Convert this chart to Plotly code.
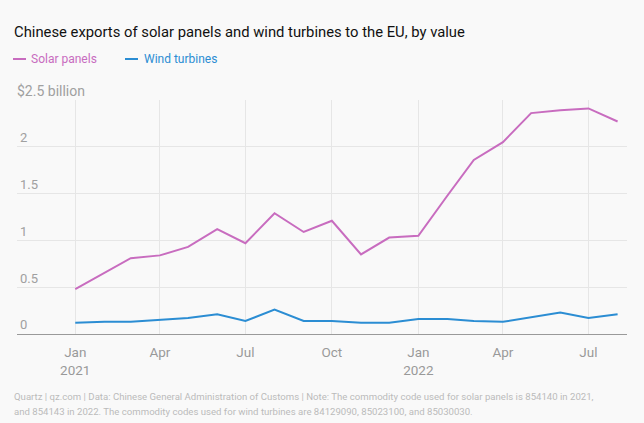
import plotly.graph_objects as go

months = ["2021-01-01","2021-02-01","2021-03-01","2021-04-01","2021-05-01","2021-06-01",
          "2021-07-01","2021-08-01","2021-09-01","2021-10-01","2021-11-01","2021-12-01",
          "2022-01-01","2022-02-01","2022-03-01","2022-04-01","2022-05-01","2022-06-01",
          "2022-07-01","2022-08-01"]
solar_panels = [0.48, 0.65, 0.81, 0.84, 0.93, 1.12, 0.97, 1.29, 1.09, 1.21, 0.85, 1.03,
                1.05, 1.48, 1.86, 2.05, 2.36, 2.39, 2.41, 2.27]
wind_turbines = [0.12, 0.13, 0.13, 0.15, 0.17, 0.21, 0.14, 0.26, 0.14, 0.14, 0.12, 0.12,
                 0.16, 0.16, 0.14, 0.13, 0.18, 0.23, 0.17, 0.21]

x_tickvals = ["2021-01-01","2021-04-01","2021-07-01","2021-10-01","2022-01-01","2022-04-01","2022-07-01"]
x_ticktext = ["Jan<br>2021","Apr","Jul","Oct","Jan<br>2022","Apr","Jul"]
y_tickvals = [0, 0.5, 1, 1.5, 2, 2.5]
y_ticktext = ["0", "0.5", "1", "1.5", "2", ""]
y_unit_label = "$2.5 billion"
title_text = "Chinese exports of solar panels and wind turbines to the EU, by value"
legend_names = ["Solar panels", "Wind turbines"]
note_lines = ["Quartz | qz.com | Data: Chinese General Administration of Customs | Note: The commodity code used for solar panels is 854140 in 2021,",
              "and 854143 in 2022. The commodity codes used for wind turbines are 84129090, 85023100, and 85030030."]

SOLAR = "#c86cbf"
WIND = "#2b8dd3"
FONT = "Roboto, sans-serif"

fig = go.Figure()
fig.add_trace(go.Scatter(x=months, y=solar_panels, mode="lines", name=legend_names[0],
                         line=dict(color=SOLAR, width=2)))
fig.add_trace(go.Scatter(x=months, y=wind_turbines, mode="lines", name=legend_names[1],
                         line=dict(color=WIND, width=2)))

annotations = [
    dict(text=y_unit_label, xref="paper", yref="y", x=0, y=2.5, xshift=-2, yshift=9,
         xanchor="left", yanchor="middle", showarrow=False,
         font=dict(size=14, color="#a0a0a0", family=FONT)),
    dict(text=title_text, xref="paper", yref="paper", x=0, y=1, xshift=-5, yshift=68,
         xanchor="left", yanchor="middle", showarrow=False,
         font=dict(size=14.8, color="#111111", family=FONT)),
    dict(text=legend_names[0], xref="paper", yref="paper", x=0, y=1, xshift=12, yshift=41,
         xanchor="left", yanchor="middle", showarrow=False,
         font=dict(size=12, color=SOLAR, family=FONT)),
    dict(text=legend_names[1], xref="paper", yref="paper", x=0, y=1, xshift=125, yshift=41,
         xanchor="left", yanchor="middle", showarrow=False,
         font=dict(size=12, color=WIND, family=FONT)),
]
for i, line in enumerate(note_lines):
    annotations.append(dict(text=line, xref="paper", yref="paper", x=0, y=0, xshift=-5,
                            yshift=-62 - 15 * i, xanchor="left", yanchor="middle",
                            showarrow=False, font=dict(size=9.6, color="#bbbbbb", family=FONT)))

shapes = [
    dict(type="line", xref="paper", yref="paper", xsizemode="pixel", ysizemode="pixel",
         xanchor=0, yanchor=1, x0=-4, x1=9, y0=41, y1=41, line=dict(color=SOLAR, width=2)),
    dict(type="line", xref="paper", yref="paper", xsizemode="pixel", ysizemode="pixel",
         xanchor=0, yanchor=1, x0=108, x1=121, y0=41, y1=41, line=dict(color=WIND, width=2)),
]

fig.update_layout(
    width=644, height=423,
    margin=dict(l=17, r=17, t=100, b=89),
    paper_bgcolor="#f9f9f9", plot_bgcolor="#f9f9f9",
    showlegend=False,
    font=dict(family=FONT, color="#999999", size=13),
    xaxis=dict(range=["2020-10-31", "2022-08-11"], tickvals=x_tickvals, ticktext=x_ticktext,
               showgrid=True, gridcolor="#e6e6e6", gridwidth=1,
               showline=True, linecolor="#9a9a9a", linewidth=1, ticks="",
               ticklabelstandoff=6,
               tickfont=dict(size=13.5, color="#999999"), zeroline=False),
    yaxis=dict(range=[0, 2.5], tickvals=y_tickvals, ticktext=y_ticktext,
               ticklabelposition="inside top", showgrid=True, gridcolor="#e6e6e6",
               gridwidth=1, zeroline=False, ticks="",
               tickfont=dict(size=13, color="#a0a0a0")),
    annotations=annotations,
    shapes=shapes,
)

fig.write_html("out.html", config={"displayModeBar": False},
               post_script="document.body.style.margin='0';document.body.style.background='#f9f9f9';")
